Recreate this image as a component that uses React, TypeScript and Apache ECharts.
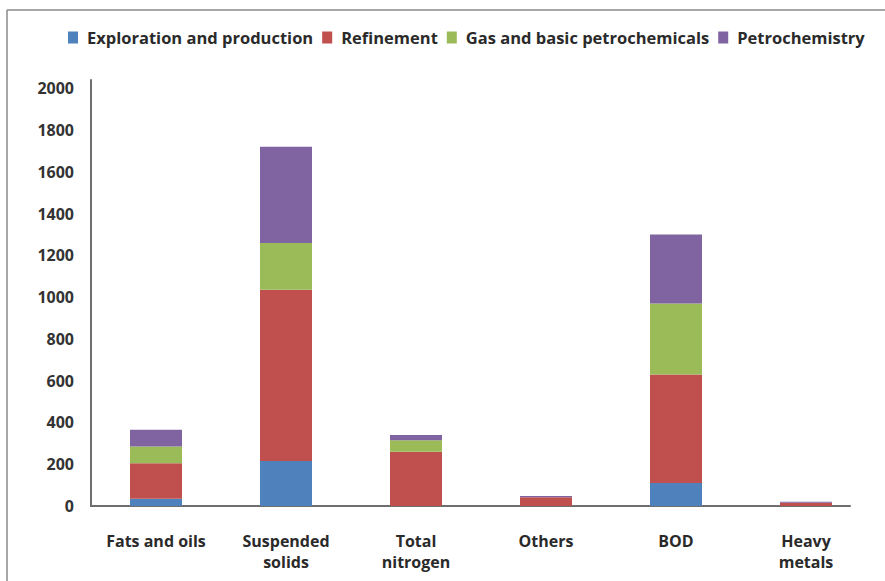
import React, { useEffect, useRef } from "react";
import * as echarts from "echarts";

// Pollutant load by industry segment
const categories = ["Fats and oils", "Suspended\nsolids", "Total\nnitrogen", "Others", "BOD", "Heavy\nmetals"];
const seriesNames = ["Exploration and production", "Refinement", "Gas and basic petrochemicals", "Petrochemistry"];
const exploration = [35, 215, 0, 0, 110, 0];
const refinement = [170, 820, 260, 42, 520, 15];
const gasBasic = [80, 225, 55, 0, 340, 0];
const petrochemistry = [80, 460, 25, 6, 330, 5];
const colors = ["#4f81bd", "#c0504d", "#9bbb59", "#8064a2"];

const FONT = "'Open Sans', 'Noto Sans', sans-serif";

export default function App() {
  const ref = useRef<HTMLDivElement>(null);

  useEffect(() => {
    document.body.style.margin = "0";
    if (!ref.current) return;
    const chart = echarts.init(ref.current, null, { renderer: "svg" });
    const values = [exploration, refinement, gasBasic, petrochemistry];

    chart.setOption({
      animation: false,
      backgroundColor: "#ffffff",
      color: colors,
      textStyle: { fontFamily: FONT },
      legend: {
        top: 24,
        left: 63,
        itemWidth: 10,
        itemHeight: 12,
        itemGap: 9,
        icon: "rect",
        textStyle: {
          fontFamily: FONT,
          fontSize: 16.5,
          fontWeight: 700,
          color: "#2a2a2a",
          padding: [0, 0, 0, 4],
        },
        data: seriesNames,
      },
      graphic: [
        { type: "line", shape: { x1: 7, y1: 10, x2: 885, y2: 10 }, style: { stroke: "#8a8a8a", lineWidth: 1.5 } },
        { type: "line", shape: { x1: 7, y1: 10, x2: 7, y2: 581 }, style: { stroke: "#8a8a8a", lineWidth: 1.5 } },
      ],
      grid: [
        { left: 91, right: 14, top: 80, bottom: 75 },
        { left: 91, right: 35, top: 80, bottom: 75 },
      ],
      xAxis: [
        {
          type: "category",
          gridIndex: 0,
          data: categories,
          axisLine: { show: false },
          axisTick: { show: false },
          axisLabel: {
            margin: 24,
            fontFamily: FONT,
            fontSize: 16,
            fontWeight: 700,
            color: "#2a2a2a",
            lineHeight: 21,
            interval: 0,
          },
        },
        {
          type: "category",
          gridIndex: 1,
          data: categories,
          axisLine: { show: true, lineStyle: { color: "#6e6e6e", width: 2 } },
          axisTick: { show: false },
          axisLabel: { show: false },
        },
      ],
      yAxis: [
        {
          type: "value",
          gridIndex: 0,
          min: 0,
          max: 2040,
          interval: 200,
          axisLine: { show: true, lineStyle: { color: "#6e6e6e", width: 2 } },
          axisTick: { show: false },
          splitLine: { show: false },
          axisLabel: {
            showMaxLabel: false,
            margin: 17,
            fontFamily: FONT,
            fontSize: 16,
            fontWeight: 700,
            color: "#333333",
            formatter: (v: number) => String(v),
          },
        },
        { type: "value", gridIndex: 1, min: 0, max: 2040, show: false },
      ],
      series: seriesNames.map((name, i) => ({
        name,
        type: "bar",
        stack: "total",
        xAxisIndex: 0,
        yAxisIndex: 0,
        barWidth: "40%",
        data: values[i],
        itemStyle: { color: colors[i] },
      })),
    });

    return () => chart.dispose();
  }, []);

  return <div ref={ref} style={{ width: 885, height: 581 }} />;
}
